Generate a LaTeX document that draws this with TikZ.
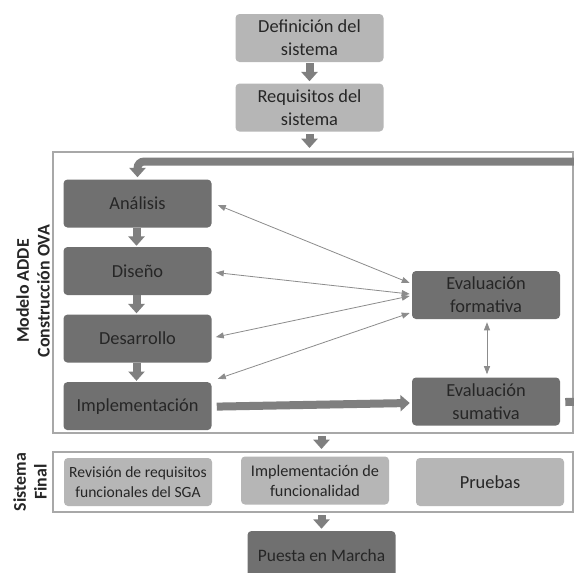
\documentclass[tikz,border=0pt]{standalone}
\usepackage{fontspec}
\setmainfont{Carlito}
\usetikzlibrary{arrows.meta,positioning,calc}
\definecolor{lightbox}{HTML}{B6B6B6}
\definecolor{darkbox}{HTML}{707070}
\definecolor{framecolor}{HTML}{A8A8A8}
\definecolor{arrowgray}{HTML}{7F7F7F}
\definecolor{linkgray}{HTML}{8C8C8C}
\definecolor{ink}{HTML}{262626}
\tikzset{
  lightnode/.style={
    fill=lightbox,
    rounded corners=3pt,
    align=center,
    minimum width=111pt,
    minimum height=36pt,
    inner sep=2pt,
    text=ink,
    font=\fontsize{13.8}{17}\selectfont
  },
  darknode/.style={lightnode, fill=darkbox},
  smallnode/.style={lightnode, font=\fontsize{11.7}{14.5}\selectfont},
  midnode/.style={lightnode, font=\fontsize{12.2}{15}\selectfont},
  framenode/.style={
    draw=framecolor,
    line width=1.5pt,
    fill=white,
    minimum width=390pt,
    inner sep=0pt
  },
  sidelabel/.style={rotate=90, align=center, text=ink, font=\bfseries\fontsize{13.4}{15.5}\selectfont},
  blockarrow/.style={-{Triangle[width=12pt,length=7pt]},line width=6pt,draw=arrowgray},
  linkarrow/.style={{Triangle[width=4.5pt,length=6pt]}-{Triangle[width=4.5pt,length=6pt]},line width=0.6pt,draw=linkgray}
}

\begin{document}
\begin{tikzpicture}[x=0.75pt,y=-0.75pt]
  \path[use as bounding box, clip] (0,0) rectangle (574,572);
  % marcos
  \node[framenode, minimum height=210.75pt] (adde) at (313,292.5) {};
  \node[framenode, minimum height=45pt] (sist) at (313,482) {};
  \node[sidelabel] (addelabel) at (33,291) {Modelo ADDE\\Construcción OVA};
  \node[sidelabel] (sistlabel) at (30,482) {Sistema\\Final};
  % sistema
  \node[lightnode] (def) at (309.5,38) {Definición del\\sistema};
  \node[lightnode, below=15.75pt of def] (req) {Requisitos del\\sistema};
  % modelo ADDE
  \node[darknode] (ana) at (137.5,203.5) {Análisis};
  \node[darknode, below=14.25pt of ana] (dis) {Diseño};
  \node[darknode, below=14.25pt of dis] (des) {Desarrollo};
  \node[darknode, below=14.25pt of des] (imp) {Implementación};
  \node[darknode] (form) at (486,295) {Evaluación\\formativa};
  \node[darknode] (sum) at (486,401.5) {Evaluación\\sumativa};
  % sistema final
  \node[smallnode] (rev) at (138,482) {Revisión de requisitos\\funcionales del SGA};
  \node[midnode] (func) at (315,480.5) {Implementación de\\funcionalidad};
  \node[lightnode] (pru) at (490,482) {Pruebas};
  \node[darknode, font=\fontsize{13.1}{15}\selectfont] (puesta) at (321.5,555) {Puesta en Marcha};
  \coordinate (loopright) at (600,161.5);

  \draw[blockarrow] ($(def.south)+(0,1)$) -- ($(req.north)+(0,-2)$);
  \draw[blockarrow] ($(req.south)+(0,2)$) -- ($(adde.north -| req)+(0,-3)$);
  \draw[blockarrow] ($(ana.south)+(-1,0)$) -- ($(dis.north)+(-1,-1)$);
  \draw[blockarrow] ($(dis.south)+(-1,0)$) -- ($(des.north)+(-1,-1)$);
  \draw[blockarrow] ($(des.south)+(-1,0)$) -- ($(imp.north)+(-1,-1)$);
  \draw[blockarrow] ($(imp.east)+(5,0.5)$) -- ($(sum.west)+(-2,1.5)$);
  \draw[blockarrow, rounded corners=5pt] ($(sum.east)+(5,0.5)$) -- (loopright |- sum.east) -- (loopright) -- (ana.north |- loopright) -- ($(ana.north)+(0,-2)$);
  \draw[blockarrow] ($(adde.south -| puesta)+(0,2)$) -- ($(sist.north -| puesta)+(0,-2)$);
  \draw[blockarrow] ($(sist.south -| puesta)+(0,2)$) -- ($(puesta.north)+(0,-2)$);

  \draw[linkarrow] ($(ana.east)+(6,1.5)$) -- ($(form.west)+(-2,-12)$);
  \draw[linkarrow] ($(dis.east)+(4,1.5)$) -- ($(form.west)+(-2,-1)$);
  \draw[linkarrow] ($(des.east)+(4,-1.5)$) -- ($(form.west)+(-2,1)$);
  \draw[linkarrow] ($(imp.north east)+(6,-3)$) -- ($(form.west)+(-2,18)$);
  \draw[linkarrow] ($(form.south)+(1,3)$) -- ($(sum.north)+(1,-3)$);
\end{tikzpicture}
\end{document}
